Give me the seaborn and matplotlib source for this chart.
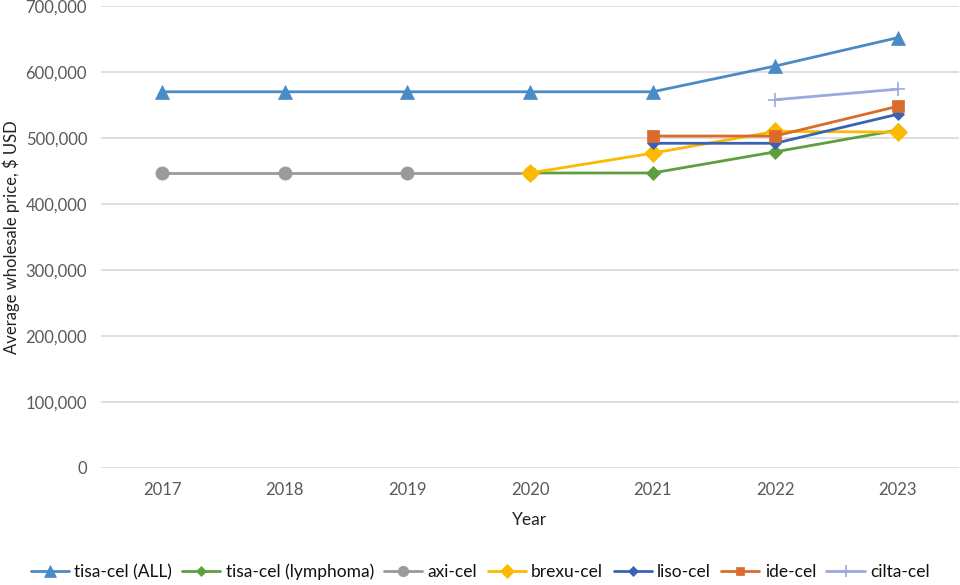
import matplotlib
matplotlib.use("Agg")
import matplotlib.pyplot as plt
import seaborn as sns
import numpy as np

sns.set_theme(style="white")
plt.rcParams['font.family'] = ['Lato', 'DejaVu Sans']

years_all = [2017, 2018, 2019, 2020, 2021, 2022, 2023]
tisa_all = [570000, 570000, 570000, 570000, 570000, 609000, 652000]

years_lymph = [2020, 2021, 2022, 2023]
tisa_lymph = [447000, 447000, 479000, 512000]

years_axi = [2017, 2018, 2019, 2020]
axi = [447000, 447000, 447000, 447000]

years_brexu = [2020, 2021, 2022, 2023]
brexu = [447000, 477000, 510000, 509000]

years_liso = [2021, 2022, 2023]
liso = [492000, 492000, 536000]

years_ide = [2021, 2022, 2023]
ide = [503000, 503000, 548000]

years_cilta = [2022, 2023]
cilta = [558000, 574000]

series = [
    ("tisa-cel (ALL)", years_all, tisa_all, "#4A8AC6", "^", 10),
    ("tisa-cel (lymphoma)", years_lymph, tisa_lymph, "#5F9E3C", "D", 7),
    ("axi-cel", years_axi, axi, "#9A9A9A", "o", 9.5),
    ("brexu-cel", years_brexu, brexu, "#FBBA00", "D", 9),
    ("liso-cel", years_liso, liso, "#3A62B4", "D", 6),
    ("ide-cel", years_ide, ide, "#D96C2C", "s", 8),
    ("cilta-cel", years_cilta, cilta, "#9CA8DE", "+", 10),
]

fig = plt.figure(figsize=(9.6, 5.85), dpi=100)
ax = fig.add_axes([101/960, 1-468/585, 858/960, 462/585])

for i, (name, xs, ys, col, mk, ms) in enumerate(series):
    sns.lineplot(x=xs, y=ys, ax=ax, color=col, marker=mk, markersize=ms,
                 linewidth=2.0, markeredgecolor=col, markeredgewidth=1.2 if mk == "+" else 0.5,
                 label=name, zorder=3 + i)

ax.set_xlim(2016.5, 2023.5)
ax.set_ylim(0, 700000)
ax.set_xticks(years_all)
ax.set_xticklabels([str(y) for y in years_all])
ax.set_yticks(np.arange(0, 700001, 100000))
ax.yaxis.set_major_formatter(matplotlib.ticker.FuncFormatter(lambda v, p: f"{int(v):,}"))
ax.tick_params(axis='both', labelsize=12, labelcolor="#595959", length=0)
ax.tick_params(axis='x', pad=10)
ax.tick_params(axis='y', pad=10)
ax.grid(axis='y', color="#D9D9D9", linewidth=1.2)
ax.set_axisbelow(True)
for s in ax.spines.values():
    s.set_visible(False)

ax.set_xlabel("Year", fontsize=12.5, color="#222222", labelpad=10)
ax.set_ylabel("Average wholesale price, $ USD", fontsize=12, color="#222222", labelpad=4)

leg = ax.legend(loc="center", bbox_to_anchor=((480 - 101) / 858, -0.225),
                ncol=7, frameon=False, fontsize=12.5, handlelength=2.2, handletextpad=0.3,
                columnspacing=0.6, borderaxespad=0, markerscale=0.8)
for t in leg.get_texts():
    t.set_color("#111111")

fig.savefig("out.png", dpi=100)
